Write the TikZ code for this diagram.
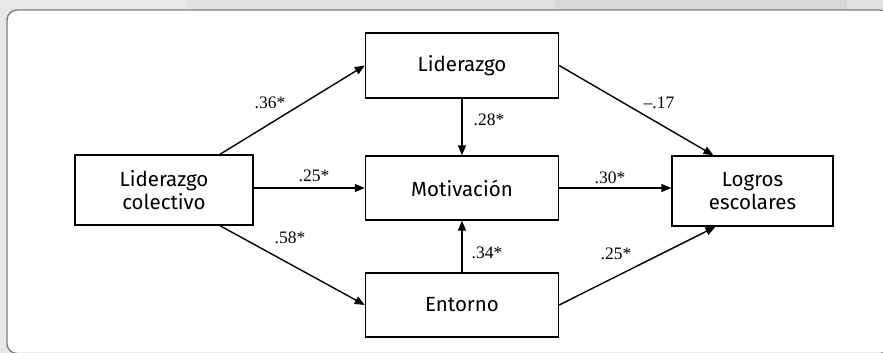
\documentclass[tikz,border=0pt]{standalone}
\usepackage{fontspec}
\setmainfont{Liberation Serif}
\newfontfamily\boxfont{Fira Sans}
\usetikzlibrary{arrows.meta}
\definecolor{bandA}{HTML}{E8E9E8}
\definecolor{bandB}{HTML}{E0E1E0}
\definecolor{bandC}{HTML}{D6D7D9}
\definecolor{framegray}{HTML}{7E7E7E}
\begin{document}
\begin{tikzpicture}[x=1pt,y=-1pt,
    box/.style={draw, line width=1.4pt, align=center, inner sep=0pt,
      font=\boxfont\fontsize{20.5}{23.5}\selectfont},
    coef/.style={inner sep=0pt, font=\fontsize{17.5}{17.5}\selectfont},
    path/.style={line width=1.4pt, -{Triangle[length=10pt,width=8pt]}}]
    \useasboundingbox (0,0) rectangle (883,353);

    % Page background and frame
    \fill[bandA] (0,0) rectangle (883,353);
    \fill[bandB] (186,0) rectangle (555,10);
    \fill[bandC] (555,0) rectangle (847,10);
    \fill[bandB] (847,0) rectangle (883,10);
    \begin{scope}
        \clip (0,0) rectangle (883,353);
        \draw[framegray, line width=1.4pt, fill=white, rounded corners=10pt]
            (7,10) rectangle (890,353.5);
    \end{scope}

    % Variables
    \node[box, minimum width=178pt, minimum height=70pt] (lc) at (164,190)
        {Liderazgo\\colectivo};
    \node[box, minimum width=193pt, minimum height=65pt] (lid) at (462,65.5)
        {Liderazgo};
    \node[box, minimum width=193pt, minimum height=64pt] (mot) at (462,188)
        {Motivación};
    \node[box, minimum width=193pt, minimum height=64pt] (ent) at (462,305)
        {Entorno};
    \node[box, minimum width=161pt, minimum height=70pt] (log) at (752.5,191)
        {Logros\\escolares};

    % Paths
    \draw[path] ([xshift=56pt]lc.north) -- (lid.west);
    \draw[path] (lc.east |- mot.west) -- (mot.west);
    \draw[path] ([xshift=56pt]lc.south) -- (ent.west);
    \draw[path] (lid.south) -- (mot.north);
    \draw[path] (ent.north) -- (mot.south);
    \draw[path] (mot.east) -- (mot.east -| log.west);
    \draw[path] (lid.east) -- ([xshift=-39pt]log.north);
    \draw[path] (ent.east) -- ([xshift=-37pt]log.south);

    % Coefficients
    \node[coef] (c36) at (270,103) {.36*};
    \node[coef] (c25a) at (314,176) {.25*};
    \node[coef] (c58) at (290,238) {.58*};
    \node[coef] (c28) at (489,120) {.28*};
    \node[coef] (c34) at (487,253) {.34*};
    \node[coef] (c17) at (659,103) {--.17};
    \node[coef] (c30) at (610,178) {.30*};
    \node[coef] (c25b) at (616,254) {.25*};
\end{tikzpicture}
\end{document}
